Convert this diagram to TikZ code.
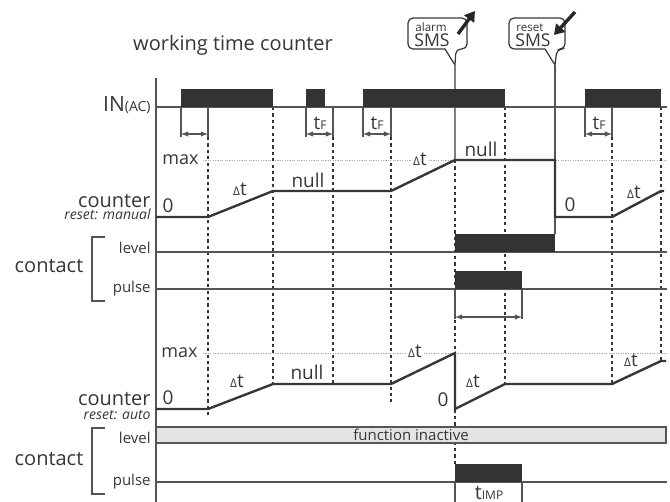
\documentclass[tikz,border=0pt]{standalone}
\usepackage{fontspec}
\setmainfont{Open Sans}
\usepackage{tikz}
\usetikzlibrary{arrows.meta,positioning}
\definecolor{inkgray}{HTML}{363636}
\definecolor{bargray}{HTML}{333333}
\definecolor{thingray}{HTML}{555555}
\definecolor{maxgray}{HTML}{A8A8A8}
\definecolor{offgray}{HTML}{E4E4E4}
\newcommand{\dtlabel}{{\fontsize{6}{6}\selectfont Δ}t}
\newcommand{\tsub}[1]{t{\fontsize{6}{6}\selectfont #1}}

\begin{document}
\begin{tikzpicture}[
        x=0.5pt, y=-0.5pt,
        >={Latex[length=3.6pt,width=2.8pt]},
        % text styles
        lbl/.style={text=inkgray, inner sep=0pt, font=\fontsize{10}{12}\selectfont},
        smalllbl/.style={text=inkgray, inner sep=0pt, font=\fontsize{7.5}{9}\selectfont},
        siglbl/.style={text=inkgray, inner sep=0pt, font=\fontsize{9.5}{11}\selectfont},
        % line styles
        bar/.style={fill=bargray, draw=none},
        axisln/.style={draw=thingray, line width=0.55pt},
        dotln/.style={draw=inkgray, line width=0.7pt, dash pattern=on 1.6pt off 1.6pt},
        maxln/.style={draw=maxgray, line width=0.45pt, dash pattern=on 0.6pt off 0.6pt},
        sig/.style={draw=inkgray, line width=1.2pt},
        dimln/.style={draw=thingray, line width=0.55pt},
        bracket/.style={draw=thingray, line width=0.8pt},
        bubble/.style={draw=inkgray, line width=0.6pt, fill=white},
        smsarrow/.style={draw=black!85, line width=1.7pt, -{Triangle[length=5pt,width=6pt]}}
    ]
        \useasboundingbox (0,0) rectangle (670,502);

        % Title
        \node[lbl, anchor=base] (title) at (233,51) {working time counter};

        % SMS bubbles
        \coordinate (alarmtip) at (455,65);
        \coordinate (resettip) at (555,65);
        \draw[bubble, rounded corners=2.5pt] (445,49) -- (408,49) -- (408,18) -- (467,18) -- (467,49) -- (456,49) [sharp corners] -- (alarmtip) -- cycle;
        \draw[bubble, rounded corners=2.5pt] (545,49) -- (509,49) -- (509,18) -- (565,18) -- (565,49) -- (557,49) [sharp corners] -- (resettip) -- cycle;
        \node[text=inkgray, inner sep=0pt, anchor=base west, font=\fontsize{5.8}{6}\selectfont] (alarmtxt) at (415,32) {alarm};
        \node[text=inkgray, inner sep=0pt, anchor=base west, font=\fontsize{8.8}{9}\selectfont] (alarmsms) at (414,47) {SMS};
        \node[text=inkgray, inner sep=0pt, anchor=base west, font=\fontsize{5.8}{6}\selectfont] (resettxt) at (516,32) {reset};
        \node[text=inkgray, inner sep=0pt, anchor=base west, font=\fontsize{8.8}{9}\selectfont] (resetsms) at (515,47) {SMS};
        \coordinate (alarmfrom) at (458,34);
        \coordinate (alarmto) at (475,11);
        \coordinate (resetfrom) at (575,12);
        \coordinate (resetto) at (554,35);
        \draw[smsarrow] (alarmfrom) -- (alarmto);
        \draw[smsarrow] (resetfrom) -- (resetto);

        % max lines
        \draw[maxln] (203,160) -- (667,160);
        \draw[maxln] (203,353) -- (667,353);

        % event lines
        \draw[dimln, draw=gray] (alarmtip) -- (455,160);
        \draw[dimln] (resettip) -- (555,234);
        \draw[dotln] (208,137) -- (208,415);
        \draw[dotln] (273,107) -- (273,384);
        \draw[dotln] (333,137) -- (333,384);
        \draw[dotln] (391,137) -- (391,402);
        \draw[dotln] (455,160) -- (455,464);
        \draw[dotln] (505,107) -- (505,384);
        \draw[dotln] (612,137) -- (612,384);
        \draw[dotln] (661,107) -- (661,361);

        % axis and base lines
        \draw[axisln] (156,78) -- (156,502);
        \draw[axisln] (156,107) -- (667,107);
        \draw[axisln] (156,252) -- (667,252);
        \draw[axisln] (156,289) -- (667,289);
        \draw[axisln] (156,482) -- (667,482);

        % IN(AC)
        \node[lbl, anchor=base east, font=\fontsize{10.5}{12}\selectfont] (inlbl) at (151,112) {IN{\fontsize{7}{8}\selectfont(AC)}};
        \fill[bar] (181,89) rectangle (273,107);
        \fill[bar] (306,89) rectangle (325,107);
        \fill[bar] (363,89) rectangle (505,107);
        \fill[bar] (585,89) rectangle (661,107);

        % tF dimensions
        \draw[dimln] (181,107) -- (181,137);
        \draw[dimln] (208,107) -- (208,137);
        \draw[dimln, <->] (181,134) -- (208,134);
        \draw[dimln] (306,107) -- (306,137);
        \draw[dimln] (333,107) -- (333,137);
        \draw[dimln, <->] (306,134) -- (333,134);
        \draw[dimln] (363,107) -- (363,137);
        \draw[dimln] (391,107) -- (391,137);
        \draw[dimln, <->] (363,134) -- (391,134);
        \draw[dimln] (585,107) -- (585,137);
        \draw[dimln] (612,107) -- (612,137);
        \draw[dimln, <->] (585,134) -- (612,134);
        \node[siglbl, anchor=base] (tf1) at (320,130) {\tsub{F}};
        \node[siglbl, anchor=base] (tf2) at (377,130) {\tsub{F}};
        \node[siglbl, anchor=base] (tf3) at (599,130) {\tsub{F}};

        % counter, reset manual
        \draw[sig] (156,217) -- (208,217) -- (273,191) -- (391,191) -- (455,160) -- (555,160) -- (555,217) -- (612,217) -- (661,191) -- (664,191);
        \node[siglbl, anchor=base east, font=\fontsize{9}{11}\selectfont] (max1) at (199,165) {max};
        \node[siglbl, anchor=base] (zero1) at (168,213) {0};
        \node[siglbl, anchor=base] (dt1) at (240,196) {\dtlabel};
        \node[siglbl, anchor=base] (null1) at (308,188) {null};
        \node[siglbl, anchor=base, fill=white, inner sep=1pt] (dt2) at (420,166) {\dtlabel};
        \node[siglbl, anchor=base] (null2) at (481,157) {null};
        \node[siglbl, anchor=base] (zero2) at (570,212) {0};
        \node[siglbl, anchor=base] (dt3) at (634,199) {\dtlabel};
        \node[lbl, anchor=base east] (cnt1) at (151,208) {counter};
        \node[lbl, anchor=base east, font=\fontsize{7}{8}\selectfont\itshape] (rst1) at (151,220) {reset: manual};

        % contact, reset manual
        \fill[bar] (455,234) rectangle (555,252);
        \fill[bar] (455,271) rectangle (522,289);
        \draw[dimln] (455,289) -- (455,319);
        \draw[dimln] (522,289) -- (522,319);
        \draw[dimln, <->] (455,317) -- (522,317);
        \node[smalllbl, anchor=base east] (lvl1) at (151,254) {level};
        \node[smalllbl, anchor=base east] (pls1) at (151,293) {pulse};
        \node[lbl, anchor=base] (con1) at (49,273) {contact};
        \draw[bracket] (105,237) -- (92,237) -- (92,301) -- (105,301);

        % counter, reset auto
        \draw[sig] (156,409) -- (208,409) -- (273,384) -- (391,384) -- (455,353) -- (455,409) -- (505,384) -- (612,384) -- (661,361) -- (666,361);
        \node[siglbl, anchor=base east, font=\fontsize{9}{11}\selectfont] (max2) at (198,358) {max};
        \node[siglbl, anchor=base] (zero3) at (168,405) {0};
        \node[siglbl, anchor=base] (dt4) at (237,388) {\dtlabel};
        \node[siglbl, anchor=base] (null3) at (307,380) {null};
        \node[siglbl, anchor=base, fill=white, inner sep=1pt] (dt5) at (415,358) {\dtlabel};
        \node[siglbl, anchor=base] (zero4) at (443,407) {0};
        \node[siglbl, anchor=base] (dt6) at (473,388) {\dtlabel};
        \node[siglbl, anchor=base] (dt7) at (631,367) {\dtlabel};
        \node[lbl, anchor=base east] (cnt2) at (151,406) {counter};
        \node[lbl, anchor=base east, font=\fontsize{7}{8}\selectfont\itshape] (rst2) at (151,420) {reset: auto};

        % contact, reset auto
        \draw[draw=thingray, fill=offgray, line width=0.55pt] (156,427) rectangle (666,443);
        \node[smalllbl] (inact) at (411,435) {function inactive};
        \fill[bar] (455,464) rectangle (522,482);
        \draw[dimln] (455,482) -- (455,502);
        \draw[dimln] (522,482) -- (522,502);
        \node[lbl, anchor=base] (timp) at (489,500) {\tsub{IMP}};
        \node[smalllbl, anchor=base east] (lvl2) at (151,444) {level};
        \node[smalllbl, anchor=base east] (pls2) at (151,486) {pulse};
        \node[lbl, anchor=base] (con2) at (49,466) {contact};
        \draw[bracket] (105,428) -- (92,428) -- (92,494) -- (105,494);

    \end{tikzpicture}
\end{document}
